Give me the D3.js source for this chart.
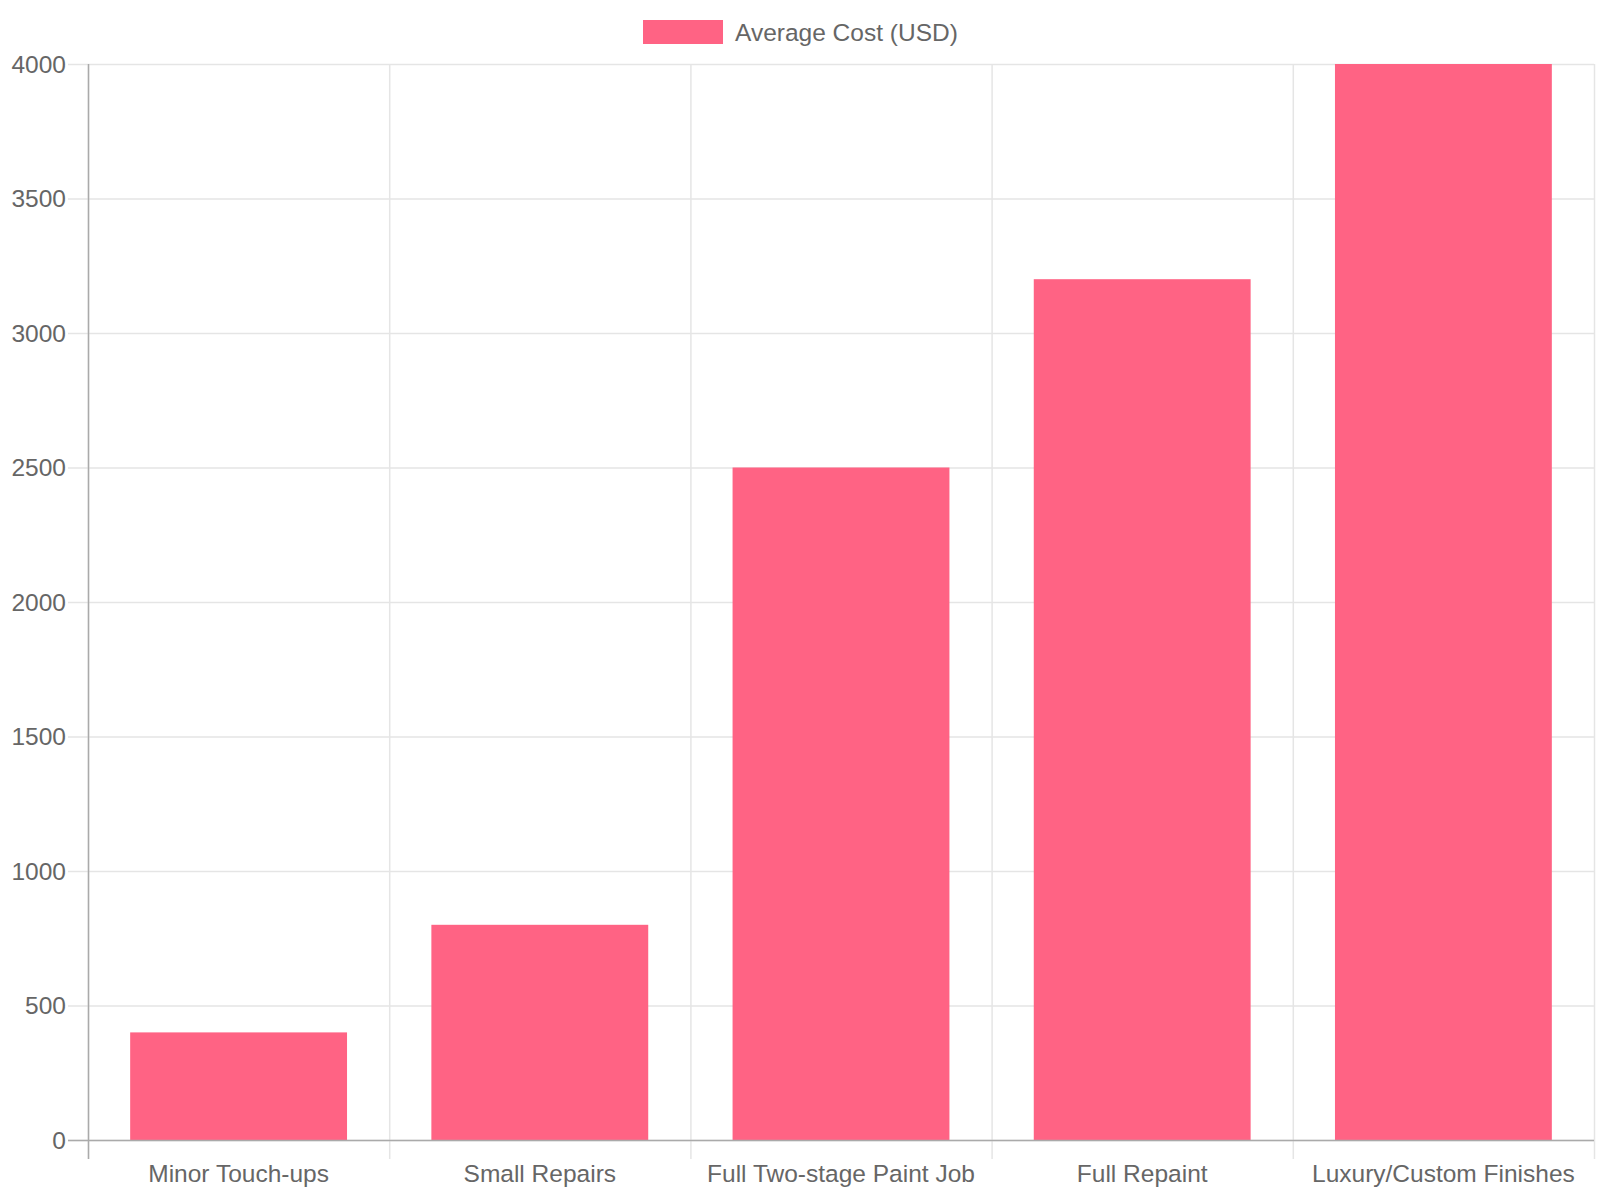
<!DOCTYPE html>
<html>
<head>
<meta charset="utf-8">
<script src="https://cdn.jsdelivr.net/npm/d3@7"></script>
<style>
  body { margin: 0; background: #fff; }
  text { font-family: "Liberation Sans", Arial, sans-serif; fill: #666; }
</style>
</head>
<body>
<div id="chart"></div>
<script>
const categories = ["Minor Touch-ups", "Small Repairs", "Full Two-stage Paint Job", "Full Repaint", "Luxury/Custom Finishes"];
const costs = [400, 800, 2500, 3200, 4000];
const yTicks = [0, 500, 1000, 1500, 2000, 2500, 3000, 3500, 4000];
const seriesName = "Average Cost (USD)";

const width = 1600, height = 1200;
const plotLeft = 88, plotRight = 1594, plotTop = 64, plotBottom = 1140;
const barColor = "#ff6384";
const fontSize = 24.5;

const svg = d3.select("#chart").append("svg")
    .attr("width", width)
    .attr("height", height);

const x = d3.scaleBand()
    .domain(categories)
    .range([plotLeft, plotRight]);

const y = d3.scaleLinear()
    .domain([0, 4000])
    .range([plotBottom, plotTop]);

// horizontal grid
svg.append("g")
  .selectAll("line")
  .data(yTicks)
  .join("line")
    .attr("x1", plotLeft - 20)
    .attr("x2", plotRight)
    .attr("y1", d => y(d) + 0.5)
    .attr("y2", d => y(d) + 0.5)
    .attr("stroke", "#e5e5e5")
    .attr("stroke-width", 1.5);

// vertical grid at category boundaries
const bounds = categories.map(c => x(c)).concat([plotRight]);
svg.append("g")
  .selectAll("line")
  .data(bounds)
  .join("line")
    .attr("x1", d => d + 0.5)
    .attr("x2", d => d + 0.5)
    .attr("y1", plotTop)
    .attr("y2", plotBottom + 19)
    .attr("stroke", "#e5e5e5")
    .attr("stroke-width", 1.5);

// bars
const inner = x.bandwidth() * 0.72;
svg.append("g")
  .selectAll("rect")
  .data(categories)
  .join("rect")
    .attr("x", d => x(d) + (x.bandwidth() - inner) / 2)
    .attr("y", (d, i) => y(costs[i]))
    .attr("width", inner)
    .attr("height", (d, i) => y(0) - y(costs[i]))
    .attr("fill", barColor);

// axis lines
svg.append("line")
    .attr("x1", plotLeft + 0.5).attr("x2", plotLeft + 0.5)
    .attr("y1", plotTop).attr("y2", plotBottom + 19)
    .attr("stroke", "#aaa").attr("stroke-width", 1.5);
svg.append("line")
    .attr("x1", plotLeft - 20).attr("x2", plotRight)
    .attr("y1", plotBottom + 0.5).attr("y2", plotBottom + 0.5)
    .attr("stroke", "#aaa").attr("stroke-width", 1.5);

// y labels
svg.append("g")
  .selectAll("text")
  .data(yTicks)
  .join("text")
    .attr("x", plotLeft - 22)
    .attr("y", d => y(d))
    .attr("dy", "0.35em")
    .attr("text-anchor", "end")
    .attr("font-size", fontSize)
    .text(d => d);

// x labels
svg.append("g")
  .selectAll("text")
  .data(categories)
  .join("text")
    .attr("x", d => x(d) + x.bandwidth() / 2)
    .attr("y", plotBottom + 42)
    .attr("text-anchor", "middle")
    .attr("font-size", fontSize)
    .text(d => d);

// legend
const legend = svg.append("g");
legend.append("rect")
    .attr("x", 643).attr("y", 20)
    .attr("width", 80).attr("height", 24)
    .attr("fill", barColor);
legend.append("text")
    .attr("x", 735).attr("y", 32)
    .attr("dy", "0.35em")
    .attr("font-size", fontSize)
    .text(seriesName);
</script>
</body>
</html>
